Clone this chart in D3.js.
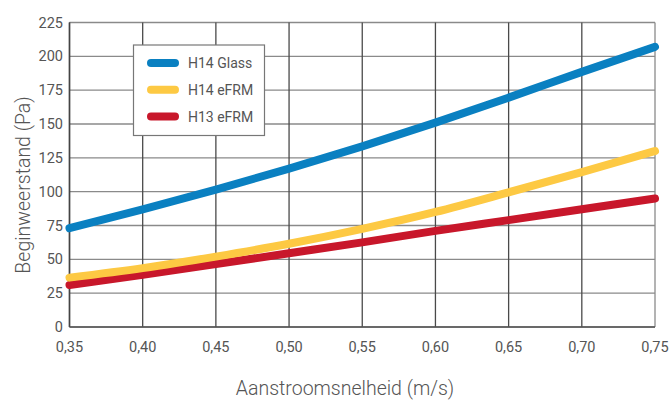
<!DOCTYPE html>
<html>
<head>
<meta charset="utf-8">
<script src="https://cdn.jsdelivr.net/npm/d3@7"></script>
<style>
    body { margin: 0; background: #fff; }
    text { font-family: Roboto, "Liberation Sans", sans-serif; fill: #555; }
</style>
</head>
<body>
<svg id="chart" width="670" height="401"></svg>
<script>
// chart data
var speeds = [0.35, 0.40, 0.45, 0.50, 0.55, 0.60, 0.65, 0.70, 0.75];
var h14Glass = [73, 87, 101.5, 117, 133.5, 151, 169.5, 188.5, 207];
var h14Efrm = [36.5, 43.5, 52, 61.5, 72.5, 85, 99.5, 114.5, 130];
var h13Efrm = [31, 38.5, 46.5, 54.5, 62.5, 71, 79, 87, 95];
var seriesNames = ["H14 Glass", "H14 eFRM", "H13 eFRM"];
var seriesColors = ["#0a80c1", "#fdc943", "#c8172b"];
var yTicks = [0, 25, 50, 75, 100, 125, 150, 175, 200, 225];

var svg = d3.select("#chart");
var plotLeft = 69.5, plotRight = 655, plotTop = 22.5, plotBottom = 327;

var x = d3.scaleLinear().domain([0.35, 0.75]).range([plotLeft, plotRight]);
var y = d3.scaleLinear().domain([0, 225]).range([plotBottom, plotTop]);

/**
 * Grid: horizontal lines are lighter than the vertical ones
 */
var grid = svg.append("g");
grid.selectAll(".hline").data(yTicks).enter().append("line")
    .attr("x1", plotLeft).attr("x2", plotRight)
    .attr("y1", function (d) { return y(d); }).attr("y2", function (d) { return y(d); })
    .attr("stroke", "#8a8a8a").attr("stroke-width", 1.3);
grid.selectAll(".vline").data(speeds).enter().append("line")
    .attr("y1", plotTop).attr("y2", plotBottom)
    .attr("x1", function (d) { return x(d); }).attr("x2", function (d) { return x(d); })
    .attr("stroke", function (d, i) { return i == speeds.length - 1 ? "#8a8a8a" : "#4a4a4a"; })
    .attr("stroke-width", 1.3);
// axis lines
grid.append("line").attr("x1", plotLeft).attr("x2", plotLeft).attr("y1", plotTop).attr("y2", plotBottom)
    .attr("stroke", "#444").attr("stroke-width", 1.5);
grid.append("line").attr("x1", plotLeft).attr("x2", plotRight).attr("y1", plotBottom).attr("y2", plotBottom)
    .attr("stroke", "#555").attr("stroke-width", 1.5);

// tick labels
svg.selectAll(".ylab").data(yTicks).enter().append("text")
    .attr("x", 63).attr("y", function (d) { return y(d) + 5; })
    .attr("text-anchor", "end").style("font-size", "14.5px")
    .text(function (d) { return d; });
svg.selectAll(".xlab").data(speeds).enter().append("text")
    .attr("x", function (d) { return x(d); }).attr("y", 352)
    .attr("text-anchor", "middle").style("font-size", "14.5px")
    .text(function (d) { return d3.format(".2f")(d).replace(".", ","); });

// axis titles
svg.append("text").attr("x", 345).attr("y", 395)
    .attr("text-anchor", "middle").style("font-size", "19.5px").style("font-weight", 300)
    .text("Aanstroomsnelheid (m/s)");
svg.append("text").attr("transform", "translate(29.5,185) rotate(-90)")
    .attr("text-anchor", "middle").style("font-size", "19.5px").style("font-weight", 300)
    .text("Beginweerstand (Pa)");

// curves
var allSeries = [h14Glass, h14Efrm, h13Efrm];
var line = d3.line()
    .x(function (d, i) { return x(speeds[i]); })
    .y(function (d) { return y(d); })
    .curve(d3.curveMonotoneX);
// draw red first, then yellow, blue on top
for (var i = allSeries.length - 1; i >= 0; i--) {
    svg.append("path").datum(allSeries[i])
        .attr("d", line)
        .attr("fill", "none")
        .attr("stroke", seriesColors[i])
        .attr("stroke-width", 8)
        .attr("stroke-linecap", "round");
}

// legend
var legend = svg.append("g");
legend.append("rect").attr("x", 133.5).attr("y", 45).attr("width", 131).attr("height", 90.5)
    .attr("fill", "#fff").attr("stroke", "#777").attr("stroke-width", 1.2);
seriesNames.forEach(function (name, i) {
    var ly = 63 + i * 26.8;
    legend.append("line").attr("x1", 151).attr("x2", 175).attr("y1", ly).attr("y2", ly)
        .attr("stroke", seriesColors[i]).attr("stroke-width", 8).attr("stroke-linecap", "round");
    legend.append("text").attr("x", 188).attr("y", ly + 5).style("font-size", "14px")
        .text(name);
});
</script>
</body>
</html>
